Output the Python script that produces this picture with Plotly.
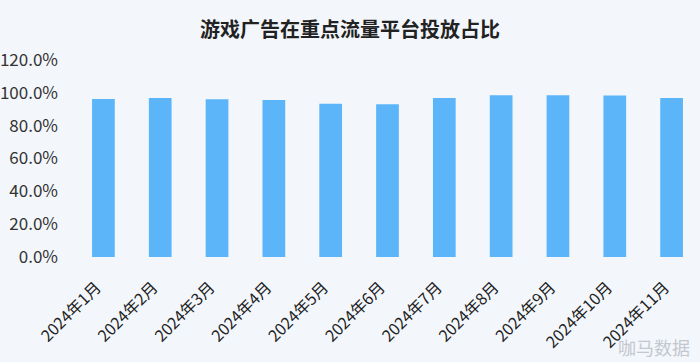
import plotly.graph_objects as go

categories = ["2024年1月", "2024年2月", "2024年3月", "2024年4月", "2024年5月", "2024年6月",
              "2024年7月", "2024年8月", "2024年9月", "2024年10月", "2024年11月"]
share = [0.963, 0.969, 0.961, 0.957, 0.934, 0.930, 0.969, 0.985, 0.985, 0.983, 0.969]
y_ticks = [0, 0.2, 0.4, 0.6, 0.8, 1.0, 1.2]
title_text = "游戏广告在重点流量平台投放占比"
watermark = "咖马数据"

FONT = "Noto Sans CJK SC"
BG = "#f3f7fc"

fig = go.Figure(go.Bar(
    x=categories, y=share,
    marker=dict(color="#5cb5f9", line=dict(width=0)),
    width=0.4,
))

fig.update_layout(
    width=700, height=362,
    paper_bgcolor=BG, plot_bgcolor=BG,
    margin=dict(l=75, r=0, t=60, b=105),
    showlegend=False,
    font=dict(family=FONT, color="#333333"),
    title=dict(text="<b>" + title_text + "</b>", x=0.5, xanchor="center",
               y=0.917, yanchor="middle",
               font=dict(size=20, color="#222222", family=FONT)),
    xaxis=dict(tickangle=-45, showgrid=False, showline=False, zeroline=False,
               automargin=False,
               tickfont=dict(size=16, color="#222222", family=FONT),
               ticks="", ticklen=0, ticklabelstandoff=17, ticklabelshift=-7),
    yaxis=dict(range=[0, 1.2], tickvals=y_ticks, tickformat=".1%",
               showgrid=False, zeroline=False, showline=False, automargin=False,
               tickfont=dict(size=17, color="#333333", family=FONT),
               ticks="", ticklabelstandoff=16),
    annotations=[dict(text=watermark, xref="paper", yref="paper", x=0.987, y=-0.457,
                      xanchor="right", yanchor="middle", showarrow=False,
                      font=dict(size=18, color="#c4c8ce", family=FONT))],
)

fig.write_html(
    "out.html",
    config={"displayModeBar": False},
    post_script="document.body.style.margin='0';document.body.style.background='#f3f7fc';",
)
